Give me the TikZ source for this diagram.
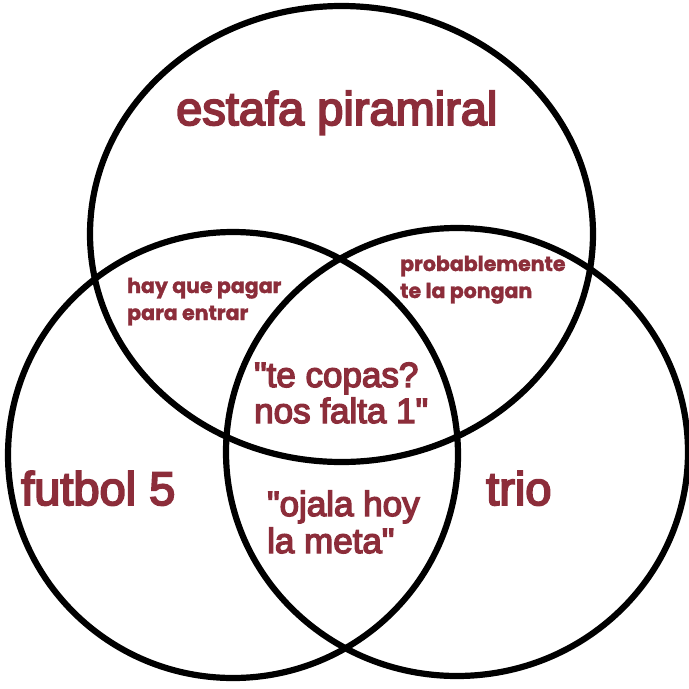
\documentclass[tikz,border=0pt]{standalone}
\usepackage{fontspec}
\newfontfamily\bigf[FakeBold=4]{Liberation Sans}
\newfontfamily\smallf[FakeBold=1.5]{Poppins}
\definecolor{lbl}{RGB}{140,45,58}
\begin{document}
\begin{tikzpicture}[x=1pt,y=-1pt,
  ring/.style={draw=black,line width=6.2pt},
  big/.style={text=lbl,inner sep=0pt,anchor=base west,font=\bigf\fontsize{47}{50}\selectfont},
  mid/.style={text=lbl,inner sep=0pt,anchor=base west,font=\bigf\fontsize{35}{40}\selectfont},
  small/.style={text=lbl,inner sep=0pt,anchor=base west,font=\smallf\bfseries\fontsize{20.5}{24}\selectfont}]
\fill[white] (0,0) rectangle (689,689);
\useasboundingbox (0,0) rectangle (689,689);
% circles
\draw[ring] (341.5,234) ellipse [x radius=251.5, y radius=228];
\draw[ring] (233,455) ellipse [x radius=225, y radius=223];
\draw[ring] (457,452) ellipse [x radius=231, y radius=224];
% labels
\node[big] (estafa) at (176,125) {estafa piramiral};
\node[big] (futbol) at (21,505) {futbol 5};
\node[big] (trio) at (486,505) {trio};
\node[mid] (copas1) at (254,387) {"te copas?};
\node[mid] (copas2) at (254,423) {nos falta 1"};
\node[mid] (ojala1) at (267,516) {"ojala hoy};
\node[mid] (ojala2) at (267,553) {la meta"};
\node[small] (pagar1) at (127,293) {hay que pagar};
\node[small] (pagar2) at (127,320) {para entrar};
\node[small] (prob1) at (400,271) {probablemente};
\node[small] (prob2) at (400,298) {te la pongan};
\end{tikzpicture}
\end{document}
